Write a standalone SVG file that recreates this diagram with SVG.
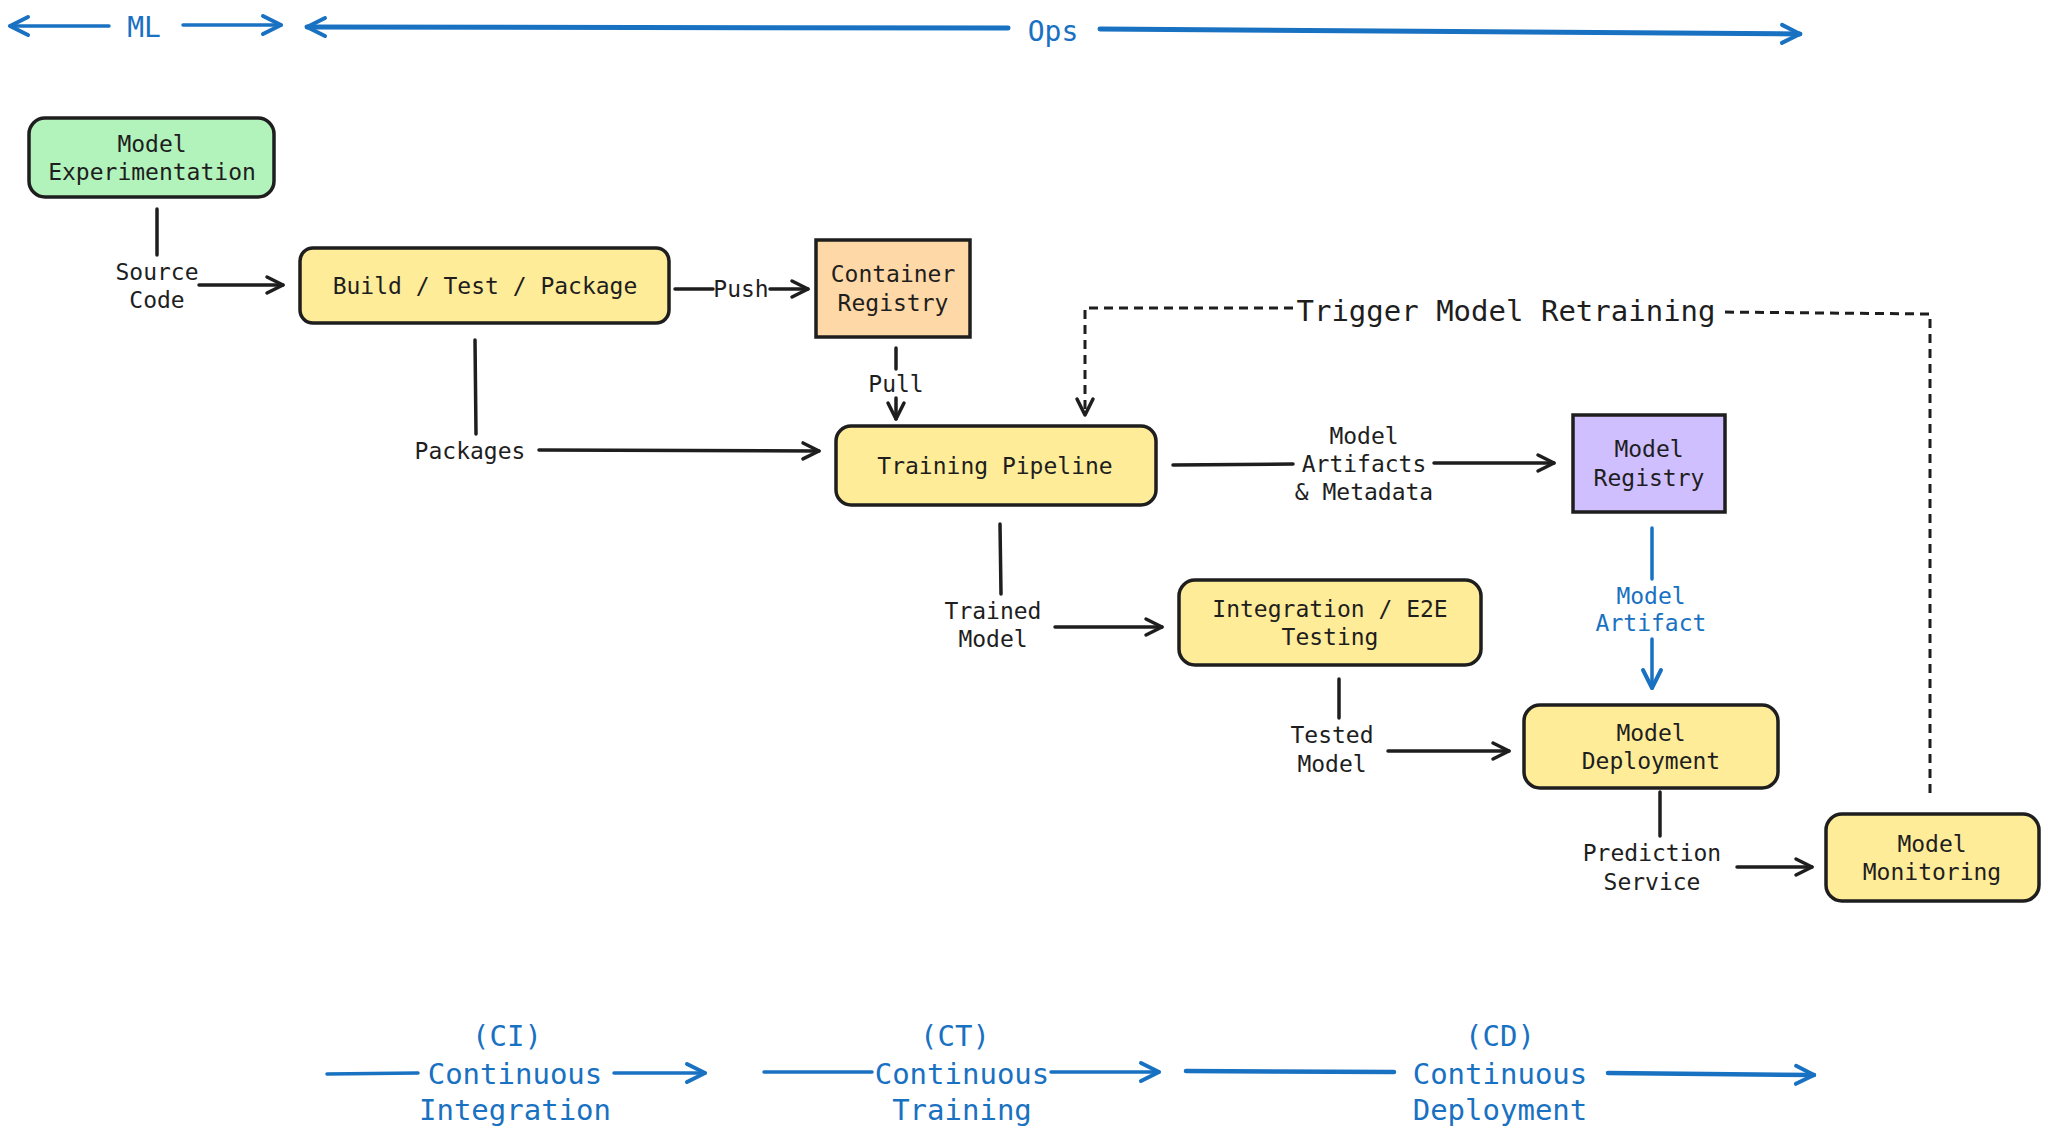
<svg xmlns="http://www.w3.org/2000/svg" width="2048" height="1135" viewBox="0 0 2048 1135">
<defs>
<marker id="ah" viewBox="0 0 22 22" refX="19" refY="11" markerWidth="22" markerHeight="22" markerUnits="userSpaceOnUse" orient="auto">
<path d="M3,3 L19,11 L3,19" fill="none" stroke="#1e1e1e" stroke-width="3.5" stroke-linecap="round" stroke-linejoin="round"/>
</marker>
<marker id="ahb" viewBox="0 0 24 24" refX="21" refY="12" markerWidth="24" markerHeight="24" markerUnits="userSpaceOnUse" orient="auto">
<path d="M3,3 L21,12 L3,21" fill="none" stroke="#1971c2" stroke-width="4" stroke-linecap="round" stroke-linejoin="round"/>
</marker>
</defs>
<style>
.box{stroke:#1e1e1e;stroke-width:3.5}
.t{font-family:"DejaVu Sans Mono","Liberation Mono",monospace;font-size:23px;fill:#1e1e1e;text-anchor:middle;dominant-baseline:central}
.tb{font-family:"DejaVu Sans Mono","Liberation Mono",monospace;font-size:23px;fill:#1971c2;text-anchor:middle;dominant-baseline:central}
.big{font-size:29px}
.c{fill:none;stroke:#1e1e1e;stroke-width:3.5;stroke-linecap:round}
.cb{fill:none;stroke:#1971c2;stroke-width:3.5;stroke-linecap:round}
.d{fill:none;stroke:#1e1e1e;stroke-width:3;stroke-dasharray:9 6}
</style>
<rect width="2048" height="1135" fill="#ffffff"/>

<g id="connectors">
<!-- top phase arrows -->
<line class="cb" x1="109" y1="26" x2="10" y2="26" marker-end="url(#ahb)"/>
<text class="tb" x="144" y="27" style="font-size:28px">ML</text>
<line class="cb" x1="183" y1="25" x2="281" y2="25" marker-end="url(#ahb)"/>
<line class="cb" x1="1008" y1="28" x2="307" y2="27" style="stroke-width:5" marker-end="url(#ahb)"/>
<text class="tb" x="1053" y="31" style="font-size:28px">Ops</text>
<line class="cb" x1="1100" y1="29" x2="1800" y2="34" style="stroke-width:5" marker-end="url(#ahb)"/>

<!-- Source Code -->
<line class="c" x1="157" y1="209" x2="157" y2="255"/>
<text class="t" x="157" y="272">Source</text>
<text class="t" x="157" y="300">Code</text>
<line class="c" x1="199" y1="285" x2="283" y2="285" marker-end="url(#ah)"/>

<!-- Push -->
<line class="c" x1="675" y1="289" x2="713" y2="289"/>
<text class="t" x="741" y="289">Push</text>
<line class="c" x1="770" y1="289" x2="808" y2="289" marker-end="url(#ah)"/>

<!-- Pull -->
<line class="c" x1="896" y1="348" x2="896" y2="369"/>
<text class="t" x="896" y="384">Pull</text>
<line class="c" x1="896" y1="398" x2="896" y2="419" marker-end="url(#ah)"/>

<!-- Packages -->
<line class="c" x1="475" y1="340" x2="476" y2="434"/>
<text class="t" x="470" y="451">Packages</text>
<line class="c" x1="539" y1="450" x2="819" y2="451" marker-end="url(#ah)"/>

<!-- Model Artifacts & Metadata -->
<line class="c" x1="1173" y1="465" x2="1293" y2="464"/>
<text class="t" x="1364" y="436">Model</text>
<text class="t" x="1364" y="464">Artifacts</text>
<text class="t" x="1364" y="492">&amp; Metadata</text>
<line class="c" x1="1434" y1="463" x2="1554" y2="463" marker-end="url(#ah)"/>

<!-- Model Artifact (blue) -->
<line class="cb" x1="1652" y1="528" x2="1652" y2="579"/>
<text class="tb" x="1651" y="596">Model</text>
<text class="tb" x="1651" y="623">Artifact</text>
<line class="cb" x1="1652" y1="639" x2="1652" y2="688" marker-end="url(#ahb)"/>

<!-- Trained Model -->
<line class="c" x1="1000" y1="524" x2="1001" y2="594"/>
<text class="t" x="993" y="611">Trained</text>
<text class="t" x="993" y="639">Model</text>
<line class="c" x1="1055" y1="627" x2="1162" y2="627" marker-end="url(#ah)"/>

<!-- Tested Model -->
<line class="c" x1="1339" y1="679" x2="1339" y2="718"/>
<text class="t" x="1332" y="735">Tested</text>
<text class="t" x="1332" y="764">Model</text>
<line class="c" x1="1388" y1="751" x2="1509" y2="751" marker-end="url(#ah)"/>

<!-- Prediction Service -->
<line class="c" x1="1660" y1="792" x2="1660" y2="836"/>
<text class="t" x="1652" y="853">Prediction</text>
<text class="t" x="1652" y="882">Service</text>
<line class="c" x1="1737" y1="867" x2="1812" y2="867" marker-end="url(#ah)"/>

<!-- Trigger Model Retraining -->
<path class="d" d="M1930,793 L1930,314 L1720,312"/>
<text class="t big" x="1506" y="311">Trigger Model Retraining</text>
<path class="d" d="M1293,308 L1085,308 L1085,415" marker-end="url(#ah)"/>

<!-- bottom phase arrows -->
<line class="cb" x1="327" y1="1074" x2="418" y2="1073"/>
<text class="tb big" x="507" y="1036">(CI)</text>
<text class="tb big" x="515" y="1074">Continuous</text>
<text class="tb big" x="515" y="1110">Integration</text>
<line class="cb" x1="614" y1="1073" x2="705" y2="1073" marker-end="url(#ahb)"/>

<line class="cb" x1="764" y1="1072" x2="872" y2="1072"/>
<text class="tb big" x="955" y="1036">(CT)</text>
<text class="tb big" x="962" y="1074">Continuous</text>
<text class="tb big" x="962" y="1110">Training</text>
<line class="cb" x1="1051" y1="1072" x2="1159" y2="1072" marker-end="url(#ahb)"/>

<line class="cb" x1="1186" y1="1071" x2="1394" y2="1072" style="stroke-width:4.5"/>
<text class="tb big" x="1500" y="1036">(CD)</text>
<text class="tb big" x="1500" y="1074">Continuous</text>
<text class="tb big" x="1500" y="1110">Deployment</text>
<line class="cb" x1="1608" y1="1073" x2="1814" y2="1075" style="stroke-width:4.5" marker-end="url(#ahb)"/>
</g>

<g id="model-experimentation">
<rect class="box" x="29" y="118" width="245" height="79" rx="16" fill="#b2f2bb"/>
<text class="t" x="152" y="144">Model</text>
<text class="t" x="152" y="172">Experimentation</text>
</g>

<g id="build-test-package">
<rect class="box" x="300" y="248" width="369" height="75" rx="13" fill="#ffec99"/>
<text class="t" x="485" y="286">Build / Test / Package</text>
</g>

<g id="container-registry">
<rect class="box" x="816" y="240" width="154" height="97" fill="#ffd8a8"/>
<text class="t" x="893" y="274">Container</text>
<text class="t" x="893" y="303">Registry</text>
</g>

<g id="training-pipeline">
<rect class="box" x="836" y="426" width="320" height="79" rx="15" fill="#ffec99"/>
<text class="t" x="995" y="466">Training Pipeline</text>
</g>

<g id="model-registry">
<rect class="box" x="1573" y="415" width="152" height="97" fill="#d0bfff"/>
<text class="t" x="1649" y="449">Model</text>
<text class="t" x="1649" y="478">Registry</text>
</g>

<g id="integration-testing">
<rect class="box" x="1179" y="580" width="302" height="85" rx="16" fill="#ffec99"/>
<text class="t" x="1330" y="609">Integration / E2E</text>
<text class="t" x="1330" y="637">Testing</text>
</g>

<g id="model-deployment">
<rect class="box" x="1524" y="705" width="254" height="83" rx="16" fill="#ffec99"/>
<text class="t" x="1651" y="733">Model</text>
<text class="t" x="1651" y="761">Deployment</text>
</g>

<g id="model-monitoring">
<rect class="box" x="1826" y="814" width="213" height="87" rx="16" fill="#ffec99"/>
<text class="t" x="1932" y="844">Model</text>
<text class="t" x="1932" y="872">Monitoring</text>
</g>
</svg>
